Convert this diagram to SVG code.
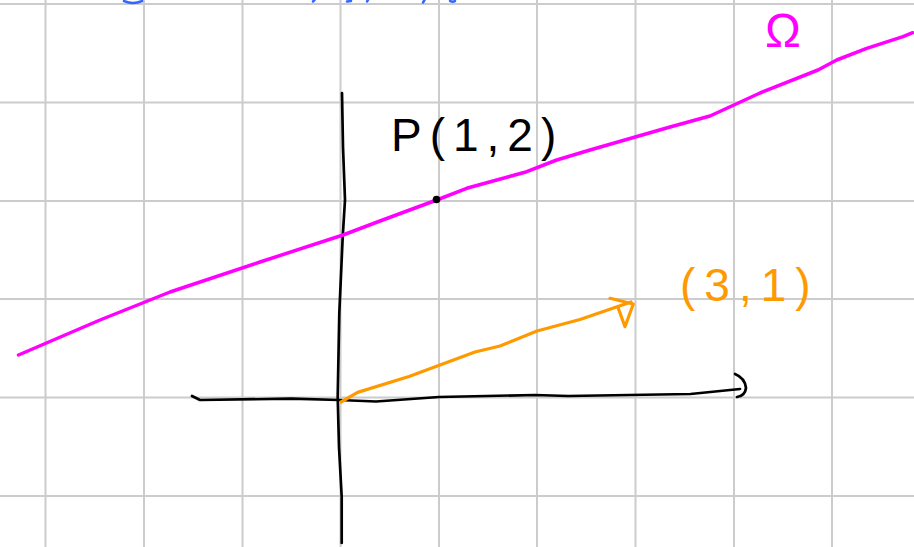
<svg xmlns="http://www.w3.org/2000/svg" width="914" height="547" viewBox="0 0 914 547">
<style>
.grid line{stroke:#cccccc;stroke-width:2}
.ink{fill:none;stroke-linecap:round;stroke-linejoin:round}
.blk{stroke:#000000;stroke-width:2.7}
.mag{stroke:#ff00ff;stroke-width:3.5}
.org{stroke:#ff9900;stroke-width:3.2}
.blu{stroke:#3366ff;stroke-width:2.5}
.lbl{font-family:"Liberation Sans",Arial,sans-serif}
</style>
<rect width="914" height="547" fill="#ffffff"/>
<g id="grid" class="grid">
<line x1="45.5" y1="0" x2="45.5" y2="547"/>
<line x1="144" y1="0" x2="144" y2="547"/>
<line x1="242.5" y1="0" x2="242.5" y2="547"/>
<line x1="340.5" y1="0" x2="340.5" y2="547"/>
<line x1="439" y1="0" x2="439" y2="547"/>
<line x1="537" y1="0" x2="537" y2="547"/>
<line x1="635.5" y1="0" x2="635.5" y2="547"/>
<line x1="734" y1="0" x2="734" y2="547"/>
<line x1="832" y1="0" x2="832" y2="547"/>
<line x1="0" y1="4" x2="914" y2="4"/>
<line x1="0" y1="102.5" x2="914" y2="102.5"/>
<line x1="0" y1="201" x2="914" y2="201"/>
<line x1="0" y1="299" x2="914" y2="299"/>
<line x1="0" y1="397.5" x2="914" y2="397.5"/>
<line x1="0" y1="496" x2="914" y2="496"/>
</g>
<g id="top-fragments" class="ink blu">
<path d="M124,1 Q133,5 142,1"/>
<path d="M313,1.5 L314.5,0"/>
<path d="M347,1.5 L351,1"/>
<path d="M367,1.5 L368,0"/>
<path d="M423,2.5 L424.5,0"/>
<path d="M450,1 Q453,2.5 455,1"/>
</g>
<g id="y-axis" class="ink blk">
<path d="M342,93 L343,147 L345,200 L342.7,237 L339.3,313 L337.7,397 L339,447 L341.7,497 L341.7,543"/>
</g>
<g id="x-axis" class="ink blk">
<path d="M192,396 L200,400 L291,398.7 L339,400 L376,401.5 L439,397 L535,395 L568,396 L690.5,394 L740,389"/>
<path d="M735,374 Q745,378 746,388 Q745,396 737,397"/>
</g>
<g id="line-omega" class="ink mag">
<path d="M18.5,355 L100,320 L170,292 L260,262 L343,235 L380,221 L436.7,200 L466.7,188.3 L526.7,171.7 L556.7,160 L590,150 L670,127 L710,116 L760,93 L818,70 L836.7,60 L866.7,48.3 L903,36.7 L912.7,32.7"/>
</g>
<g id="vector" class="ink org">
<path d="M341,402 L357.6,392.4 L409,376.5 L475,352 L500,346 L537,331 L580,319.5 L631,302"/>
<path d="M610,298.3 L633.3,304 L625,326.7 L618.3,308.3"/>
</g>
<g id="point-P">
<circle cx="436.5" cy="199.5" r="3.8" fill="#000000"/>
<text class="lbl" x="391" y="151" font-size="46" letter-spacing="8" fill="#000000">P(1,2)</text>
</g>
<g id="label-31">
<text class="lbl" x="680" y="301" font-size="46" letter-spacing="9" fill="#ff9900">(3,1)</text>
</g>
<g id="label-omega">
<text class="lbl" x="765" y="47" font-size="48" fill="#ff00ff">Ω</text>
</g>
</svg>
